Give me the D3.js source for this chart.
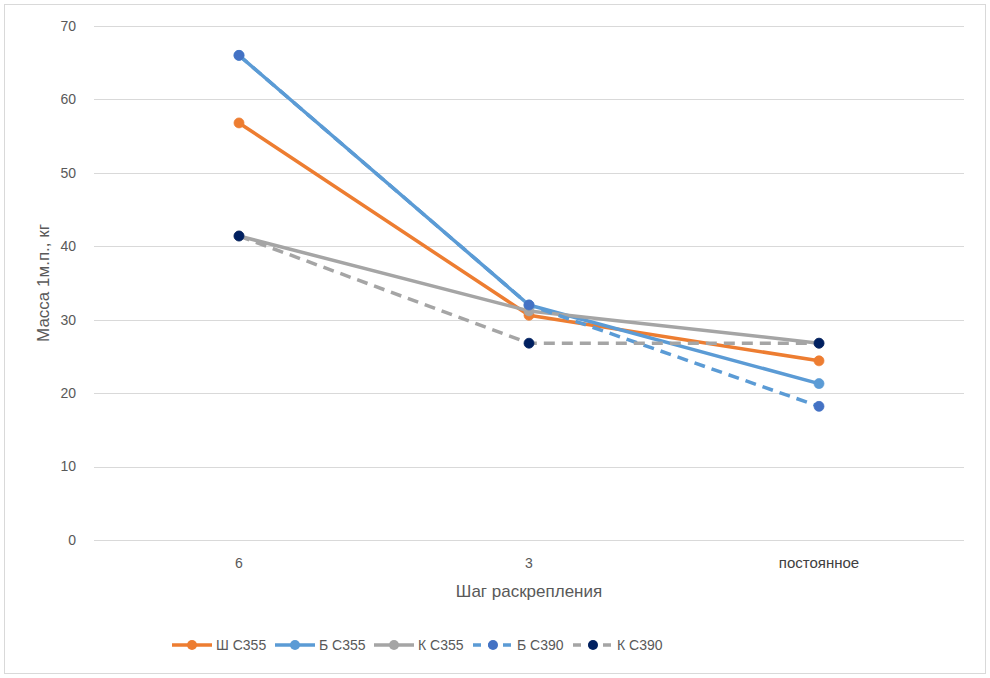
<!DOCTYPE html>
<html><head><meta charset="utf-8">
<script src="https://cdn.jsdelivr.net/npm/d3@7"></script>
<style>body{margin:0;background:#fff}svg{display:block}</style>
</head><body>
<script>
const categories = ["6", "3", "постоянное"];
const seriesNames = ["Ш С355", "Б С355", "К С355", "Б С390", "К С390"];
const shS355 = [56.8, 30.6, 24.4];
const bS355 = [66.0, 32.0, 21.3];
const kS355 = [41.4, 31.2, 26.8];
const bS390 = [66.0, 32.0, 18.2];
const kS390 = [41.4, 26.8, 26.8];
const yTicks = [0, 10, 20, 30, 40, 50, 60, 70];

const series = [
  {name: seriesNames[0], values: shS355, color: "#ED7D31", marker: "#ED7D31", dash: null},
  {name: seriesNames[1], values: bS355, color: "#5B9BD5", marker: "#5B9BD5", dash: null},
  {name: seriesNames[2], values: kS355, color: "#A5A5A5", marker: "#A5A5A5", dash: null},
  {name: seriesNames[3], values: bS390, color: "#5B9BD5", marker: "#4472C4", dash: "11,7"},
  {name: seriesNames[4], values: kS390, color: "#A5A5A5", marker: "#002060", dash: "11,7"}
];

const W = 990, H = 678;
const svg = d3.select("body").append("svg").attr("width", W).attr("height", H);
svg.append("rect").attr("x", 4.5).attr("y", 4.5).attr("width", W - 9).attr("height", H - 9)
  .attr("fill", "#fff").attr("stroke", "#D9D9D9");

const pLeft = 94, pRight = 964, pTop = 26, pBottom = 540;
const x = d3.scaleBand().domain(categories).range([pLeft, pRight]);
const y = d3.scaleLinear().domain([0, 70]).range([pBottom, pTop]);
const font = "'Liberation Sans', Arial, sans-serif";

// grid
svg.append("g").selectAll("line").data(yTicks).join("line")
  .attr("x1", pLeft).attr("x2", pRight)
  .attr("y1", d => Math.round(y(d)) + 0.5).attr("y2", d => Math.round(y(d)) + 0.5)
  .attr("stroke", "#D9D9D9").attr("stroke-width", 1);

// y tick labels
svg.append("g").selectAll("text").data(yTicks).join("text")
  .attr("x", 76).attr("y", d => y(d)).attr("dy", "0.35em").attr("text-anchor", "end")
  .attr("font-family", font).attr("font-size", 14).attr("fill", "#595959").text(d => d);

// x tick labels
svg.append("g").selectAll("text").data(categories).join("text")
  .attr("x", d => x(d) + x.bandwidth() / 2).attr("y", 568).attr("text-anchor", "middle")
  .attr("font-family", font).attr("font-size", (d, i) => i === 2 ? 15 : 14)
  .attr("fill", (d, i) => i === 2 ? "#404040" : "#595959").text(d => d);

// axis titles
svg.append("text").attr("x", 529).attr("y", 597).attr("text-anchor", "middle")
  .attr("font-family", font).attr("font-size", 17).attr("fill", "#595959").text("Шаг раскрепления");
svg.append("text").attr("transform", "translate(49,283) rotate(-90)").attr("text-anchor", "middle")
  .attr("font-family", font).attr("font-size", 17).attr("fill", "#595959").text("Масса 1м.п., кг");

const line = d3.line().x((d, i) => x(categories[i]) + x.bandwidth() / 2).y(d => y(d));

const g = svg.append("g");
series.forEach(s => {
  g.append("path").datum(s.values).attr("d", line).attr("fill", "none")
    .attr("stroke", s.color).attr("stroke-width", 3.5).attr("stroke-linejoin", "round")
    .attr("stroke-dasharray", s.dash);
  g.append("g").selectAll("circle").data(s.values).join("circle")
    .attr("cx", (d, i) => x(categories[i]) + x.bandwidth() / 2).attr("cy", d => y(d))
    .attr("r", 5).attr("fill", s.marker).attr("stroke", s.marker).attr("stroke-width", 0.75);
});

// legend
const legX = [172, 275, 374, 473, 573];
const leg = svg.append("g");
series.forEach((s, i) => {
  const lx = legX[i], ly = 645;
  leg.append("line").attr("x1", lx).attr("x2", lx + 40).attr("y1", ly).attr("y2", ly)
    .attr("stroke", s.color).attr("stroke-width", 3.5)
    .attr("stroke-dasharray", s.dash ? "8,7" : null);
  leg.append("circle").attr("cx", lx + 20).attr("cy", ly).attr("r", 5).attr("fill", s.marker);
  leg.append("text").attr("x", lx + 44).attr("y", ly).attr("dy", "0.35em")
    .attr("font-family", font).attr("font-size", 14).attr("fill", "#595959").text(s.name);
});
</script>
</body></html>
